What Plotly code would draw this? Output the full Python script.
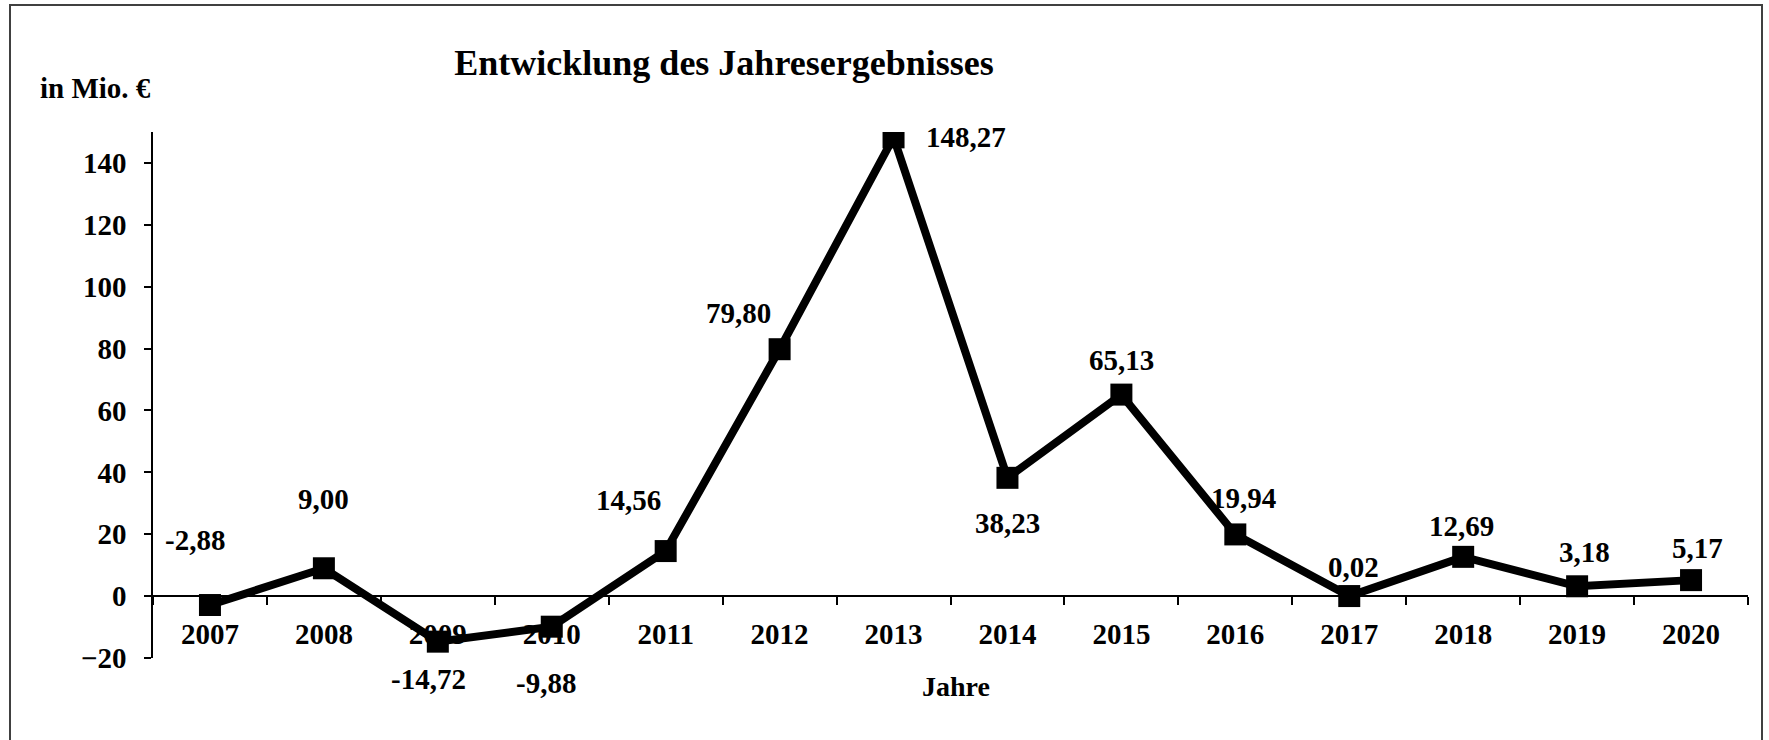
import plotly.graph_objects as go

years = ["2007", "2008", "2009", "2010", "2011", "2012", "2013",
         "2014", "2015", "2016", "2017", "2018", "2019", "2020"]
values = [-2.88, 9.00, -14.72, -9.88, 14.56, 79.80, 148.27,
          38.23, 65.13, 19.94, 0.02, 12.69, 3.18, 5.17]
y_ticks = [-20, 0, 20, 40, 60, 80, 100, 120, 140]

# label offsets in pixels (x, y; y positive = up)
label_shift = [(-15, 65), (0, 69), (-9, -37), (-6, -56), (-37, 51), (-41, 36), (72, 0),
               (0, -45), (0, 35), (8, 36), (4, 29), (-2, 31), (7, 34), (6, 32)]

W, H = 1769, 740
L, R, T, B = 153, 1748, 132, 658
FONT = "Liberation Serif"


def px_x(p):
    return (p - L) / (R - L)


def px_y(p):
    return (B - p) / (B - T)


fig = go.Figure()
fig.add_trace(go.Scatter(
    x=years, y=values, mode="lines+markers",
    line=dict(color="black", width=8),
    marker=dict(symbol="square", size=22, color="black"),
    showlegend=False, hoverinfo="skip",
))

ann = []
for i, (v, (dx, dy)) in enumerate(zip(values, label_shift)):
    ann.append(dict(x=i, y=v, xref="x", yref="y", text=f"{v:.2f}".replace(".", ","),
                    showarrow=False, xshift=dx, yshift=dy,
                    font=dict(family=FONT, size=29, color="black", weight="bold")))

ann.append(dict(x=px_x(95), y=px_y(88), xref="paper", yref="paper", text="in Mio. €",
                showarrow=False, xanchor="center", yanchor="middle",
                font=dict(family=FONT, size=29, color="black", weight="bold")))
ann.append(dict(x=px_x(956), y=px_y(686), xref="paper", yref="paper", text="Jahre",
                showarrow=False, xanchor="center", yanchor="middle",
                font=dict(family=FONT, size=28, color="black", weight="bold")))

fig.update_layout(
    width=W, height=H,
    margin=dict(l=L, r=W - R, t=T, b=H - B),
    paper_bgcolor="white", plot_bgcolor="white",
    title=dict(text="Entwicklung des Jahresergebnisses", x=724 / W,
               y=1 - 62 / H,
               xanchor="center", yanchor="middle",
               font=dict(family=FONT, size=36, color="black", weight="bold")),
    annotations=ann,
    xaxis=dict(type="category", range=[-0.5, 13.5], anchor="free",
               position=(0 - (-20)) / (150 - (-20)),
               showline=True, linecolor="black", linewidth=1.5,
               ticks="outside", ticklen=8, tickcolor="black", tickwidth=1.5,
               tickson="boundaries", showgrid=False, zeroline=False,
               ticklabelstandoff=12,
               tickfont=dict(family=FONT, size=29, color="black", weight="bold")),
    yaxis=dict(range=[-20, 150], tickvals=y_ticks,
               showline=True, linecolor="black", linewidth=1.5,
               ticks="outside", ticklen=7, tickcolor="black", tickwidth=1.5,
               showgrid=False, zeroline=False, ticklabelstandoff=12,
               tickfont=dict(family=FONT, size=29, color="black", weight="bold")),
    shapes=[dict(type="rect", xref="paper", yref="paper",
                 x0=px_x(10), x1=px_x(1762), y0=px_y(760), y1=px_y(5),
                 line=dict(color="#404040", width=2), layer="below")],
)

fig.write_html("out.html", config={"displayModeBar": False},
               post_script="document.body.style.margin='0';document.body.style.overflow='hidden';")
